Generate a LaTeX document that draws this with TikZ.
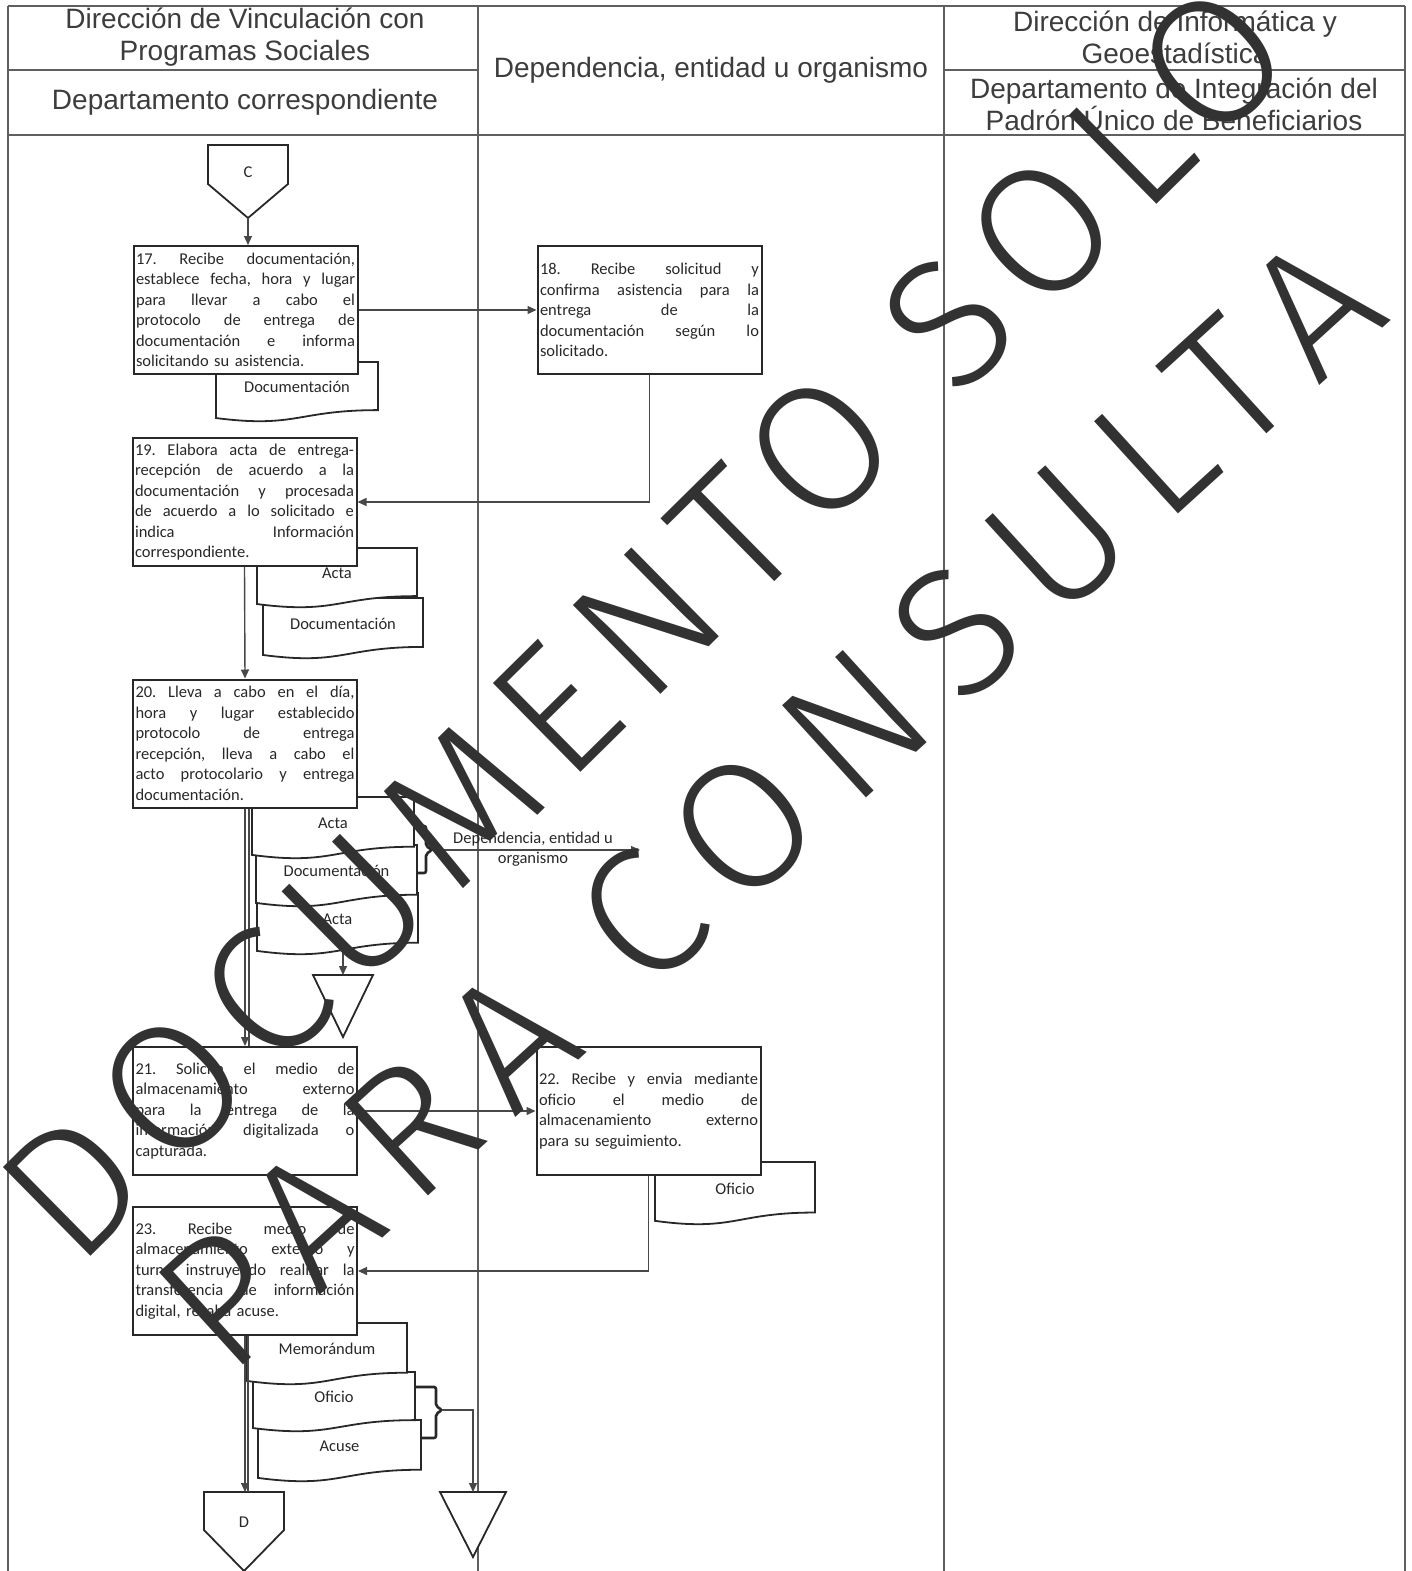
\documentclass[tikz,border=0pt]{standalone}
\usepackage{fontspec}
\setmainfont{Carlito}
\newfontfamily\hdrfont{Liberation Sans}
\newfontfamily\wmfont{Fira Sans Light}[LetterSpace=10]
\newfontfamily\wmfontb{Fira Sans Light}[LetterSpace=15]
\usetikzlibrary{arrows.meta}
\definecolor{ink}{RGB}{40,40,40}
\definecolor{gridc}{RGB}{95,95,95}
\definecolor{wmc}{RGB}{50,50,50}
\newcommand\jl[1]{{\spaceskip=.23em plus 1fil\relax\makebox[219pt][s]{#1}}\\}
\newcommand\docsh[6]{%
  \draw[doc] ({#2},{#3}) -- ({#4},{#3}) -- ({#4},{#3+0.802*#5})
    .. controls ({(#2+#4)/2},{#3+0.802*#5}) and ({(#2+#4)/2},{#3+1.107*#5}) .. ({#2},{#3+0.934*#5}) -- cycle;
  \node[doclabel] (#1) at ({(#2+#4)/2},{#3+0.42*#5}) {#6};
}
\tikzset{
  stepbox/.style={draw=ink, line width=2pt, fill=white, minimum width=224pt, minimum height=128pt,
    text width=219pt, inner sep=0pt, align=left, font=\frenchspacing\fontsize{16.5}{20.5}\selectfont, text=ink},
  flow/.style={draw=ink!85, line width=1.4pt, -{Triangle[length=9pt,width=8pt]}},
  plainline/.style={draw=ink!85, line width=1.4pt},
  doc/.style={draw=ink, line width=1.8pt, fill=white},
  doclabel/.style={font=\fontsize{16.5}{20}\selectfont, text=ink, inner sep=0pt},
  hdr/.style={font=\hdrfont\fontsize{28}{32}\selectfont, text=ink!90, align=center, inner sep=0pt},
  gridline/.style={draw=gridc, line width=1.4pt},
  offpage/.style={draw=ink, line width=1.8pt, fill=white},
  bracketline/.style={draw=ink, line width=2.6pt, rounded corners=2pt},
  wmark/.style={font=\wmfont\fontsize{182}{186}\selectfont, text=wmc, inner sep=0pt},
  wmarkb/.style={font=\wmfontb\fontsize{182}{186}\selectfont, text=wmc, inner sep=0pt},
}
\begin{document}
\begin{tikzpicture}[x=1pt,y=-1pt]
\fill[white] (0,0) rectangle (1411,1571);
\useasboundingbox (0,0) rectangle (1411,1571);
% grid
\draw[gridline] (8,6) -- (1405,6);
\draw[gridline] (8,135) -- (1405,135);
\draw[gridline] (8,70) -- (478,70);
\draw[gridline] (944,70) -- (1405,70);
\draw[gridline] (8,6) -- (8,1571);
\draw[gridline] (478,6) -- (478,1571);
\draw[gridline] (944,6) -- (944,1571);
\draw[gridline] (1405,6) -- (1405,1571);
% headers
\node[hdr] (hdrA) at (245,37) {Dirección de Vinculación con\\Programas Sociales};
\node[hdr] (hdrB) at (245,102) {Departamento correspondiente};
\node[hdr] (hdrC) at (711,70) {Dependencia, entidad u organismo};
\node[hdr] (hdrD) at (1175,37) {Dirección de Informática y\\Geoestadística};
\node[hdr] (hdrE) at (1174,104) {Departamento de Integración del\\Padrón Único de Beneficiarios};
% documents (back to front)
\docsh{d17}{216}{362}{378}{60}{Documentación}
\docsh{d19b}{263}{598}{423}{61}{Documentación}
\docsh{d19a}{257}{548}{417}{60}{Acta}
\docsh{d20c}{257}{893}{418}{62}{Acta}
\docsh{d20b}{256}{845}{417}{62}{Documentación}
\docsh{d20a}{252}{797}{414}{62}{Acta}
\docsh{d22}{655}{1162}{815}{63}{Oficio}
\docsh{d23c}{258}{1420}{421}{62}{Acuse}
\docsh{d23b}{253}{1372}{415}{60}{Oficio}
\docsh{d23a}{247}{1323}{407}{62}{Memorándum}
% process boxes
\node[stepbox] (s17) at (245.5,310) {\jl{17. Recibe documentación,}\jl{establece fecha, hora y lugar}\jl{para llevar a cabo el}\jl{protocolo de entrega de}\jl{documentación e informa}solicitando su asistencia.};
\node[stepbox] (s18) at (649.5,310) {\jl{18. Recibe solicitud y}\jl{confirma asistencia para la}\jl{entrega de la}\jl{documentación según lo}solicitado.};
\node[stepbox] (s19) at (244.5,502) {\jl{19. Elabora acta de entrega-}\jl{recepción de acuerdo a la}\jl{documentación y procesada}\jl{de acuerdo a lo solicitado e}\jl{indica Información}correspondiente.};
\node[stepbox] (s20) at (245,743.5) {\jl{20. Lleva a cabo en el día,}\jl{hora y lugar establecido}\jl{protocolo de entrega}\jl{recepción, lleva a cabo el}\jl{acto protocolario y entrega}documentación.};
\node[stepbox] (s21) at (245,1111) {\jl{21. Solicita el medio de}\jl{almacenamiento externo}\jl{para la entrega de la}\jl{información digitalizada o}capturada.};
\node[stepbox] (s22) at (648.5,1111) {\jl{22. Recibe y envia mediante}\jl{oficio el medio de}\jl{almacenamiento externo}para su seguimiento.};
\node[stepbox] (s23) at (245,1271) {\jl{23. Recibe medio de}\jl{almacenamiento externo y}\jl{turna instruyendo realizar la}\jl{transferencia de información}digital, recaba acuse.};
% off-page connectors and archive triangles
\draw[offpage] (208,145) -- (288,145) -- (288,184) -- (248,218) -- (208,184) -- cycle;
\node[doclabel] (conC) at (248,172) {C};
\coordinate (Cbot) at (248,218);
\draw[offpage] (204,1492) -- (284,1492) -- (284,1530) -- (244,1571) -- (204,1530) -- cycle;
\node[doclabel] (conD) at (244,1522) {D};
\coordinate (Dtop) at (244,1492);
\draw[offpage] (313,975) -- (373,975) -- (343,1037) -- cycle;
\coordinate (t1top) at (343,975);
\coordinate (a3bot) at (343,951);
\draw[offpage] (440,1492) -- (506,1492) -- (473,1557) -- cycle;
\coordinate (t2top) at (473,1492);
% brackets
\draw[bracketline] (414,826) -| (426,846) -- (432,850) -- (426,854) |- (417,873);
\coordinate (b20tip) at (432,850);
\coordinate (depend) at (640,850);
\draw[bracketline] (415,1387) -| (436,1406) -- (442,1410) -- (436,1414) |- (421,1438);
\coordinate (b23tip) at (442,1410);
% connectors
\draw[flow] (Cbot) -- (Cbot |- s17.north);
\draw[flow] (s17) -- (s18);
\draw[flow] (s18.south) |- (s19.east);
\draw[flow] (s19.south) -- (s20.north);
\draw[flow] (s20.south) -- (s21.north);
\draw[plainline] ([xshift=4pt]s20.south) -- ([xshift=4pt]s21.north);
\draw[flow] (a3bot) -- (t1top);
\draw[flow] (b20tip) -- (depend);
\node[doclabel, align=center] (deplabel) at (533,849) {Dependencia, entidad u\\organismo};
\draw[flow] (s21) -- (s22);
\draw[flow] (s22.south) |- (s23.east);
\draw[flow] (s23.south) -- (s23.south |- Dtop);
\draw[plainline] ([xshift=3pt]s23.south) -- ([xshift=3pt]s23.south |- Dtop);
\draw[flow] (b23tip) -| (t2top);
% watermark
\node[wmark, rotate=44.6] (wm1) at (645,622) {DOCUMENTO SOLO};
\node[wmarkb, rotate=42.3] (wm2) at (769,802) {PARA CONSULTA};
\end{tikzpicture}
\end{document}
